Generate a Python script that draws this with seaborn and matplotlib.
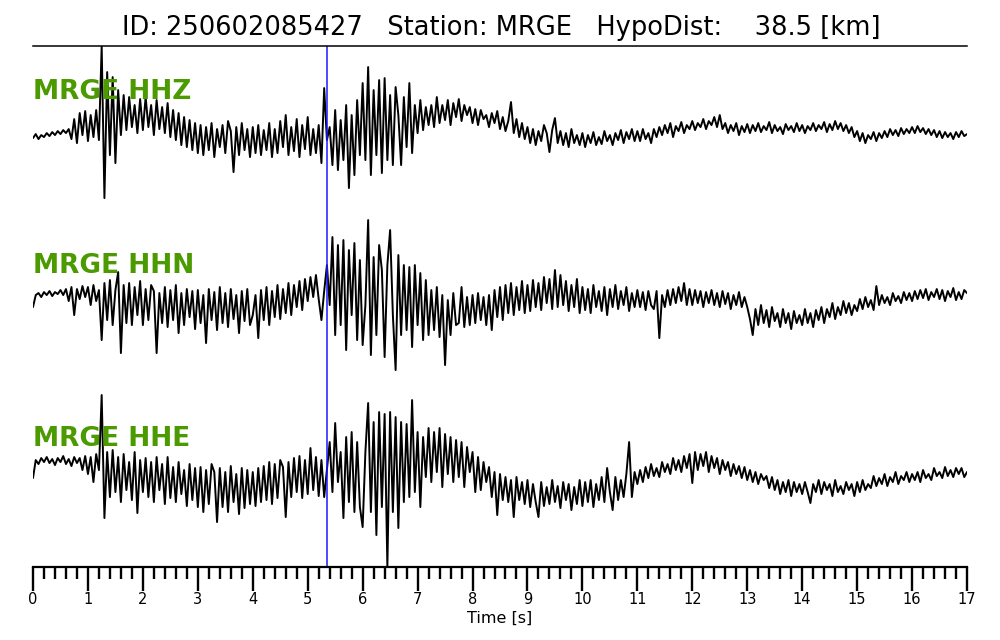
import numpy as np
import pandas as pd
import matplotlib
matplotlib.use("Agg")
import matplotlib.pyplot as plt
import seaborn as sns

sns.set_style("ticks")
plt.rcParams['font.family'] = ['DejaVu Sans']
plt.rcParams['text.color'] = 'black'
plt.rcParams['xtick.color'] = 'black'
plt.rcParams['axes.labelcolor'] = 'black'

# waveform samples every 0.05 s, amplitude in screen units (up positive)
dt = 0.05
hhz = [
    -3, 1, -4, 0, -2, 2, -1, 3, 0, 4, 1, 5, 2, 6, -4, 16, -8, 22, 0, 24,
    -6, 20, -2, 25, -5, 89, -63, 63, -20, 58, -28, 45, 0, 40, 5, 38, 8, 30, 2, 36,
    5, 38, 8, 30, 0, 35, 6, 28, 2, 32, -2, 25, -5, 22, -10, 18, -12, 15, -15, 12,
    -18, 10, -20, 8, -15, 12, -22, 6, -12, 10, -18, 14, 4, -37, 8, -20, 12, -15, 6, -22,
    8, -18, 10, -20, 5, -15, 12, -22, 6, -18, 14, -12, 20, -20, 8, -16, 16, -22, 10, -14,
    18, -20, 6, -18, 10, -28, 47, -5, 8, -30, 25, -35, 15, -25, 30, -53, 20, -40, 35, -20,
    52, -25, 68, -40, 45, -20, 55, -38, 57, -25, 40, -30, 48, 20, -30, 38, -12, 52, -18, 30,
    2, 35, 5, 28, 10, 30, 8, 38, 12, 30, 15, 35, 10, 32, 18, 36, 14, 30, 20, 28,
    12, 26, 10, 25, 16, 20, 8, 22, 12, 24, 6, 18, 4, 14, 33, 2, 16, -2, 12, -4,
    8, -8, 6, -10, 4, -6, 10, 2, -17, 5, 17, -8, 4, -10, 2, -12, 6, -8, 0, -10,
    2, -12, 0, -8, 3, -10, -2, -9, 4, -6, 0, -10, 2, -5, 5, -8, 3, -4, 6, -6,
    4, -6, 6, -4, 2, -8, 6, -2, 8, 0, 10, 2, 12, -2, 9, 4, 13, 2, 10, 6,
    14, 5, 12, 8, 16, 6, 14, 10, 18, 8, 20, 6, 12, 2, 10, 4, 12, 0, 9, 3,
    11, 2, 10, 4, 12, 3, 9, 5, 13, 2, 10, 4, 8, 1, 11, 5, 9, 3, 12, 4,
    10, 2, 9, 5, 12, 4, 10, 6, 13, 3, 11, 5, 14, 6, 12, 4, 10, 2, 8, -2,
    4, -6, 2, -8, 0, -4, 3, -6, 2, -3, 4, -2, 6, 0, 5, -1, 7, 1, 6, 2,
    8, 2, 9, 3, 7, 1, 6, 0, 5, -2, 4, -3, 3, -2, 2, -4, 3, -2, 4, -1,
    1,
]
hhn = [
    -12, 0, 2, -2, 3, 0, 4, -1, 3, 1, 5, 0, 6, -6, 8, -20, 6, -4, 9, -2,
    8, -10, 10, -6, 5, -45, 12, -25, 15, -30, 5, 23, -58, 10, -28, 12, -30, 8, -20, 14,
    -30, 6, -25, 10, 4, -58, 2, -28, 8, -32, 5, -25, 10, -38, 2, -30, 6, -22, 4, -34,
    5, -28, 0, -48, 6, -25, 3, -35, 8, -28, 2, -32, 6, -24, 0, -38, 4, -26, 6, -30,
    -20, 0, -43, 5, -25, 8, -30, 4, -22, 10, -24, 6, -18, 12, -20, 10, -12, 14, -15, 16,
    -6, 18, -2, 20, -4, -25, 4, 30, -10, 58, -40, 50, -30, 55, -55, 45, -20, 52, -45, 35,
    -50, -10, 75, -60, 38, -40, 50, 25, -62, 30, 65, -20, -75, 40, -40, 30, -35, 28, -52, 30,
    -30, 22, -45, 15, -40, 5, -35, 8, -42, 0, -70, -5, -40, 2, -30, -28, 8, -32, -2, -30,
    0, -28, 2, -25, -2, -30, 0, -35, 5, -22, 8, -25, 10, -18, 12, -20, 8, -15, 14, -18,
    10, -16, 15, -12, 12, -15, 18, -8, 16, -14, 25, -12, 20, -10, 14, -16, 10, -12, 16, -18,
    8, -15, 6, -18, 10, -12, 4, -16, 8, -20, 6, -12, 10, -14, 4, -10, 8, -16, 2, -12,
    5, -12, 3, -15, 4, -10, -14, 4, -43, 0, -12, 5, -10, 6, -8, 8, -6, 12, -10, 6,
    -10, 5, -8, 4, -12, 3, -8, 5, -10, 2, -12, 4, -9, 2, -14, 0, -10, 3, -12, -2,
    -12, -24, -40, -14, -30, -10, -28, -15, -32, -12, -26, -18, -32, -14, -28, -18, -34, -16, -28, -20,
    -30, -14, -28, -18, -32, -15, -25, -12, -28, -14, -22, -8, -24, -12, -20, -6, -18, -8, -20, -10,
    -16, -4, -14, -2, -12, -5, -15, 9, -10, 0, -8, -2, -10, 2, -6, -1, -8, 3, -5, 2,
    -6, 4, -4, 5, -3, 6, -5, 3, -2, 6, -4, 5, -6, 4, -2, 7, -5, 3, -4, 5,
    2,
]
hhe = [
    -16, 2, -2, 4, 0, 5, -1, 3, -3, 4, 0, 6, -2, 3, -4, 5, -1, 4, -8, 6,
    -12, 5, -20, 8, -8, 67, -56, 10, -35, 12, -30, 5, -40, 8, -28, 0, -38, 10, -51, 2,
    -30, 4, -35, 0, -40, 5, -28, -2, -42, 5, -36, -5, -40, 0, -32, -8, -44, -2, -38, -6,
    -45, -5, -50, -8, -42, -2, -10, -60, -6, -45, -10, -50, -4, -40, -12, -52, -6, -46, -8, -42,
    -10, -44, -6, -40, -4, -38, 0, -42, -2, -36, 2, -5, -55, 0, -35, 4, -30, 6, -36, 2,
    -32, 14, -28, 5, -34, 2, -35, -8, 20, -30, 39, -20, 10, -56, 25, -40, 30, -50, 20, -45,
    -65, 10, 59, -50, 40, -73, 50, -45, 48, -105, 50, -50, 45, -66, 40, -40, 38, -35, 62, -30,
    30, -45, 25, -15, 34, -20, 30, -10, 34, -25, 28, -12, 25, -20, 22, -15, 20, -25, 15, -10,
    10, -30, 5, -28, 0, -20, -5, -35, -10, -53, -12, -38, -15, -40, -18, -55, -15, -38, -20, -42,
    -18, -45, -22, -40, -55, -20, -44, -25, -42, -18, -40, -24, -46, -20, -38, -22, -48, -25, -42, -18,
    -44, -20, -40, -18, -45, -22, -38, -15, -40, -6, -30, -48, -15, -38, -18, -35, -12, 20, -35, -10,
    -22, -8, -20, -5, -16, -2, -14, -6, -15, 0, -10, -2, -12, 4, -8, 2, -10, 6, -6, 8,
    -21, 10, -8, 8, -4, 10, -10, 6, -6, 4, -12, 2, -8, 0, -14, -2, -12, -4, -16, -5,
    -18, -8, -20, -10, -22, -12, -18, -14, -26, -15, -28, -18, -32, -20, -30, -18, -34, -20, -30, -22,
    -32, -20, -30, -41, -22, -30, -18, -32, -20, -28, -22, -34, -18, -30, -24, -32, -20, -28, -22, -34,
    -20, -30, -18, -28, -22, -26, -14, -24, -16, -22, -12, -24, -15, -20, -10, -22, -14, -18, -10, -20,
    -12, -18, -10, -20, -8, -16, -12, -18, -6, -14, -10, -16, -5, -14, -8, -15, -6, -12, -6, -15,
    -10,
]
channels = ["HHZ", "HHN", "HHE"]
station = "MRGE"
event_id = "250602085427"
hypo_dist = 38.5
p_pick = 5.345

# vertical placement of each trace on the panel
offsets = {"HHZ": 432, "HHN": 272, "HHE": 105}
label_y = {"HHZ": 0.911, "HHN": 0.578, "HHE": 0.246}

fig = plt.figure(figsize=(10, 6.4), dpi=100)
ax = fig.add_axes([0.033, 0.114, 0.934, 0.814])

for ch, data in zip(channels, [hhz, hhn, hhe]):
    df = pd.DataFrame({"t": np.arange(len(data)) * dt, "amp": np.array(data) + offsets[ch]})
    sns.lineplot(data=df, x="t", y="amp", ax=ax, color="black", lw=1.4, estimator=None)
    ax.text(0.0, label_y[ch], f"{station} {ch}", transform=ax.transAxes, color="#4a9a00",
            fontsize=19, fontweight="bold", va="center", ha="left")

ax.axvline(p_pick, color="#1a1aff", lw=1.1)

ax.set_xlim(0, 17)
ax.set_ylim(0, 521)
ax.set_yticks([])
ax.set_ylabel("")
ax.set_xticks(range(0, 18))
ax.set_xticks(np.arange(0, 17.01, 0.2), minor=True)
ax.tick_params(axis="x", which="major", direction="out", length=17, width=1.7, labelsize=10.5, pad=1)
ax.tick_params(axis="x", which="minor", direction="out", length=8.5, width=1.7)
ax.set_xlabel("Time [s]", fontsize=11.5, labelpad=3)

for s in ["left", "right"]:
    ax.spines[s].set_visible(False)
ax.spines["top"].set_color("black")
ax.spines["top"].set_linewidth(1.1)
ax.spines["bottom"].set_color("black")
ax.spines["bottom"].set_linewidth(1.6)

fig.suptitle(f"ID: {event_id}   Station: {station}   HypoDist:    {hypo_dist} [km]",
             fontsize=18.5, y=0.977, x=0.501, color="black")

fig.savefig("out.png", dpi=100)
plt.close()
